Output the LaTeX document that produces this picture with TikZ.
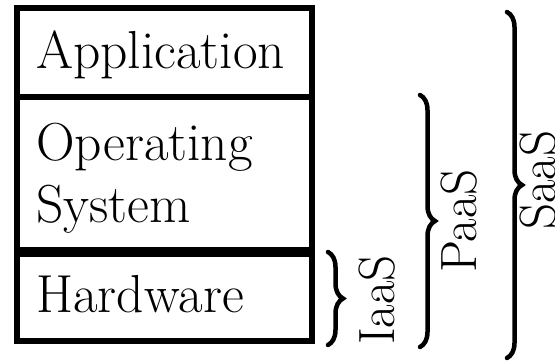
\documentclass[tikz,border=0pt]{standalone}
\usetikzlibrary{decorations.pathreplacing}
\begin{document}
\begin{tikzpicture}[x=1pt,y=-1pt,
  layer/.style={draw=black,line width=5.5pt},
  layertext/.style={inner sep=0pt,anchor=base west,font=\fontsize{53.5}{62}\selectfont},
  stackbrace/.style={draw=black,line width=4.5pt,line cap=round,decorate,
    decoration={brace,amplitude=15pt,aspect=0.5}},
  servicetext/.style={inner sep=0pt,anchor=base,rotate=90,font=\fontsize{51}{60}\selectfont}]
  \useasboundingbox (0,0) rectangle (555,360);

  % the three layers of the stack
  \draw[layer] (17,8) rectangle (312,97);
  \draw[layer] (17,97) rectangle (312,250);
  \draw[layer] (17,254) rectangle (312,341);

  \node[layertext] (app) at (36,68) {Application};
  \node[layertext] (os1) at (36,160) {Operating};
  \node[layertext] (os2) at (36,222) {System};
  \node[layertext] (hw) at (36,312) {Hardware};

  % service models as braces
  \coordinate (iaasT) at (328,252);
  \coordinate (iaasB) at (328,345);
  \coordinate (paasT) at (420,95);
  \coordinate (paasB) at (420,347);
  \coordinate (saasT) at (507,12);
  \coordinate (saasB) at (507,358);

  \draw[stackbrace] (iaasT) -- (iaasB);
  \draw[stackbrace] (paasT) -- (paasB);
  \draw[stackbrace] (saasT) -- (saasB);

  \node[servicetext] (iaas) at (394,300) {IaaS};
  \node[servicetext] (paas) at (476,221) {PaaS};
  \node[servicetext] (saas) at (555,180) {SaaS};
\end{tikzpicture}
\end{document}
